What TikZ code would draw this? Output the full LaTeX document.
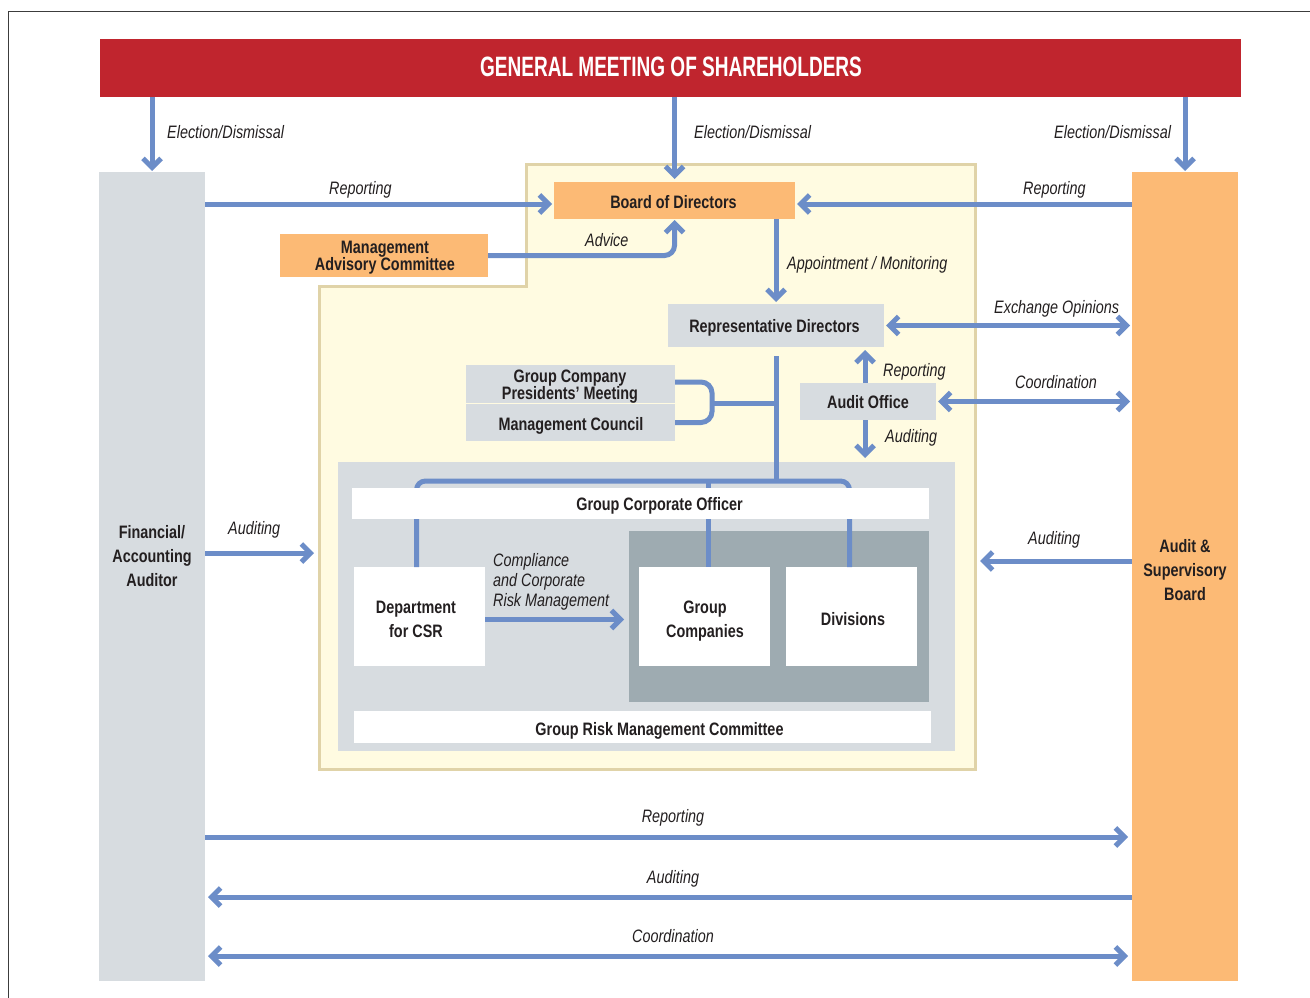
\documentclass[tikz,border=0pt]{standalone}
\usepackage{fontspec}
\setmainfont{Liberation Sans}[FakeStretch=0.8]
\newfontfamily\titlefont{Liberation Sans}[FakeStretch=0.68]
\usetikzlibrary{arrows.meta,calc}
\definecolor{redbar}{RGB}{192,37,46}
\definecolor{gcol}{RGB}{215,220,224}
\definecolor{ocol}{RGB}{252,186,117}
\definecolor{cream}{RGB}{255,251,225}
\definecolor{tanb}{RGB}{224,211,168}
\definecolor{dgray}{RGB}{158,171,177}
\definecolor{ab}{RGB}{108,141,200}
\definecolor{txt}{RGB}{35,31,32}
\definecolor{framec}{RGB}{60,60,60}
\begin{document}
\begin{tikzpicture}[x=1pt,y=-1pt,
  box/.style={rectangle, draw=none, inner sep=0, outer sep=0, fill=#1},
  tl/.style={font=\fontsize{18}{24}\selectfont\bfseries, text=txt, align=center, inner sep=0, anchor=base},
  itl/.style={font=\fontsize{18}{20}\selectfont\itshape, text=txt, inner sep=0, anchor=base west, align=left},
  itc/.style={font=\fontsize{18}{20}\selectfont\itshape, text=txt, inner sep=0, anchor=base},
  ln/.style={draw=ab, line width=5},
  arr/.style={draw=ab, line width=5, -{Straight Barb[length=9,width=18]}},
  darr/.style={draw=ab, line width=5, {Straight Barb[length=9,width=18]}-{Straight Barb[length=9,width=18]}}
]
\useasboundingbox (0,0) rectangle (1310,998);
% frame
\draw[framec, line width=1.5] (8.5,998) -- (8.5,11.5) -- (1310,11.5);
% yellow region
\draw[fill=cream, draw=tanb, line width=3] (526,164) -- (975,164) -- (975,769) -- (319,769) -- (319,286) -- (526,286) -- cycle;
% big blocks
\node[box=redbar, minimum width=1141, minimum height=58] (red) at (670.5,68) {};
\node[font={\titlefont\fontsize{28}{30}\selectfont\bfseries}, text=white, inner sep=0, anchor=base] (redt) at (671,77) {GENERAL MEETING OF SHAREHOLDERS};
\node[box=gcol, minimum width=106, minimum height=809] (lcol) at (152,576.5) {};
\node[box=ocol, minimum width=106, minimum height=809] (rcol) at (1185,576.5) {};
\node[tl] (lcolt) at (152,586) {Financial/\\Accounting\\Auditor};
\node[tl] (rcolt) at (1185,600) {Audit \&\\Supervisory\\Board};
% inner gray regions
\node[box=gcol, minimum width=617, minimum height=289] (inner) at (646.5,606.5) {};
\node[box=dgray, minimum width=300, minimum height=171] (dark) at (779,616.5) {};
% boxes
\node[box=ocol, minimum width=241, minimum height=37] (bod) at (674.5,200.5) {};
\node[tl] (bodt) at (673.5,208) {Board of Directors};
\node[box=ocol, minimum width=208, minimum height=43] (mac) at (384,255.5) {};
\node[tl, font=\fontsize{18}{17}\selectfont\bfseries] (mact) at (385,270) {Management\\Advisory Committee};
\node[box=gcol, minimum width=216, minimum height=43] (rep) at (776,325.5) {};
\node[tl] (rept) at (774.5,332) {Representative Directors};
\node[box=gcol, minimum width=209, minimum height=38] (gcpm) at (570.5,384) {};
\node[tl, font=\fontsize{18}{17}\selectfont\bfseries] (gcpmt) at (570,399) {Group Company\\Presidents’ Meeting};
\node[box=gcol, minimum width=209, minimum height=37] (mc) at (570.5,422.5) {};
\node[tl] (mct) at (571,430) {Management Council};
\node[box=gcol, minimum width=136, minimum height=37] (audit) at (868,401.5) {};
\node[tl] (auditt) at (868,408) {Audit Office};
\node[box=white, minimum width=131, minimum height=99] (csr) at (419.5,616.5) {};
\node[tl] (csrt) at (416,637) {Department\\for CSR};
\node[box=white, minimum width=131, minimum height=99] (gc) at (704.5,616.5) {};
\node[tl] (gct) at (705,637) {Group\\Companies};
\node[box=white, minimum width=131, minimum height=99] (div) at (851.5,616.5) {};
\node[tl] (divt) at (853,625) {Divisions};
\node[box=white, minimum width=577, minimum height=32] (grm) at (642.5,727) {};
\node[tl] (grmt) at (659.5,735) {Group Risk Management Committee};
% junctions
\coordinate (jtop) at (776,481);
\coordinate (jsrc) at (776,356);
\coordinate (brk) at ($(gcpm.east)!0.5!(mc.east)+(37,0)$);
% org lines
\draw[ln] (jsrc) -- (jtop);
\draw[ln, rounded corners=11] ([yshift=2]gcpm.east) -- ($([yshift=2]gcpm.east)+(37,0)$) -- ($(mc.east)+(37,0)$) -- (mc.east);
\draw[ln] (brk) -- (brk -| jtop);
\draw[ln, rounded corners=9] ([xshift=-3]csr.north) |- (jtop) -| ([xshift=-2]div.north);
\draw[ln] ([xshift=4]gc.north |- jtop) -- ([xshift=4]gc.north);
\node[box=white, minimum width=577, minimum height=31] (gco) at (640.5,503.5) {};
\node[tl] (gcot) at (659.5,510) {Group Corporate Officer};
% election arrows
\draw[arr, shorten >=1] (red.south -| lcol.north) -- (lcol.north);
\draw[arr, shorten >=3] (red.south -| bod.north) -- (bod.north);
\draw[arr, shorten >=1] (red.south -| rcol.north) -- (rcol.north);
\node[itl] (e1) at (167,138) {Election/Dismissal};
\node[itl] (e2) at (694,138) {Election/Dismissal};
\node[itl] (e3) at (1054,138) {Election/Dismissal};
% reporting to board
\draw[arr, shorten >=2] (lcol.east |- 0,204) -- ([yshift=-3.5]bod.west);
\draw[arr, shorten >=2] (rcol.west |- 0,204) -- ([yshift=-3.5]bod.east);
\node[itl] (r1) at (329,194) {Reporting};
\node[itl] (r2) at (1023,194) {Reporting};
% advice
\draw[arr, rounded corners=10, shorten >=1] (mac.east) -| (bod.south);
\node[itl] (adv) at (585,246) {Advice};
% appointment
\draw[arr, shorten >=2] (bod.south -| rep.north) -- (rep.north);
\node[itl] (app) at (787,269) {Appointment / Monitoring};
% exchange opinions
\draw[darr, shorten <=2, shorten >=2] (rep.east) -- (rcol.west |- rep.east);
\node[itl] (exo) at (994,313) {Exchange Opinions};
% audit office
\draw[arr, shorten >=3] ([xshift=-3]audit.north) -- ([xshift=-3]audit.north |- rep.south);
\draw[arr, shorten >=4] ([xshift=-3]audit.south) -- ([xshift=-3]audit.south |- inner.north);
\node[itl] (ar) at (883,376) {Reporting};
\node[itl] (aa) at (885,442) {Auditing};
\draw[darr, shorten <=2, shorten >=2] (audit.east) -- (rcol.west |- audit.east);
\node[itl] (co1) at (1015,388) {Coordination};
% CSR arrow
\draw[arr, shorten >=5] ([yshift=-3]csr.east) -- ([yshift=-3]dark.west |- csr.east);
\node[itl] (cmp) at (493,606) {Compliance\\and Corporate\\Risk Management};
% auditing side arrows
\coordinate (audL) at (314,553);
\coordinate (audR) at (980,561);
\draw[arr] (lcol.east |- audL) -- (audL);
\draw[arr] (rcol.west |- audR) -- (audR);
\node[itl] (al) at (228,534) {Auditing};
\node[itl] (arr2) at (1028,544) {Auditing};
% bottom arrows
\coordinate (yb1) at (0,837);
\coordinate (yb2) at (0,897);
\coordinate (yb3) at (0,956);
\draw[arr, shorten >=4] (lcol.east |- yb1) -- (rcol.west |- yb1);
\draw[arr, shorten >=3] (rcol.west |- yb2) -- (lcol.east |- yb2);
\draw[darr, shorten <=3, shorten >=4] (lcol.east |- yb3) -- (rcol.west |- yb3);
\node[itc] (b1) at (673,822) {Reporting};
\node[itc] (b2) at (673,883) {Auditing};
\node[itc] (b3) at (673,942) {Coordination};
\end{tikzpicture}
\end{document}
